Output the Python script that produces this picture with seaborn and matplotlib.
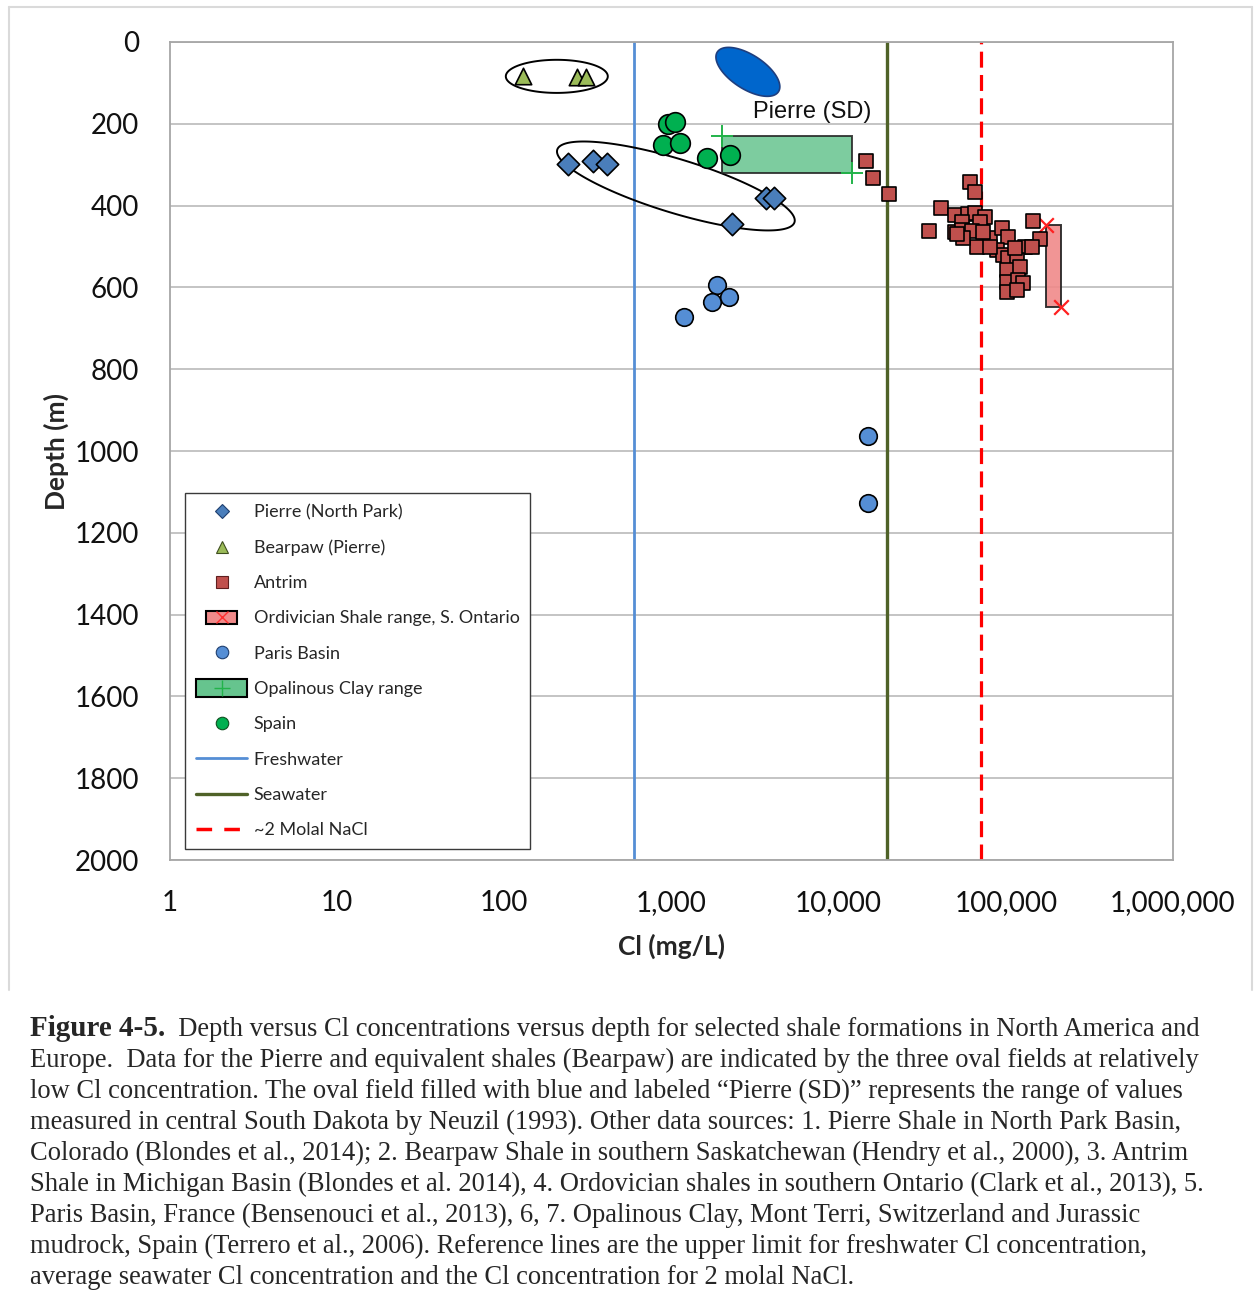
import numpy as np
import pandas as pd
import matplotlib
matplotlib.use("Agg")
import matplotlib.pyplot as plt
import seaborn as sns
from matplotlib.patches import Rectangle, Patch
from matplotlib.lines import Line2D
from matplotlib.legend_handler import HandlerTuple, HandlerPatch
from matplotlib.ticker import FixedLocator, FixedFormatter, NullLocator

# ---------------- data ----------------
# Pierre Shale, North Park Basin (Colorado)
pierre_np_cl = [240, 339, 411, 3670, 4095, 2298]
pierre_np_depth = [298, 291, 298, 381, 381, 445]

# Bearpaw Shale (southern Saskatchewan)
bearpaw_cl = [129, 272, 310]
bearpaw_depth = [84, 85, 86]

# Antrim Shale, Michigan Basin
antrim_cl = [14500, 16000, 19900, 60900, 65300, 40800, 34600, 145000, 160000,
             49600, 59300, 65300, 74900, 54600, 69900, 49600, 54600, 62600,
             80200, 94700, 102800, 67000, 88300, 130000, 143000, 95900,
             102800, 116400, 101400, 121300, 101400, 118000, 126400, 101400,
             116400, 55300, 50900, 72800, 80200, 113200]
antrim_depth = [291, 333, 372, 342, 367, 406, 462, 438, 482,
                423, 421, 418, 428, 440, 440, 465, 460, 462,
                479, 455, 477, 501, 509, 501, 501, 521,
                528, 533, 557, 550, 587, 582, 589, 611,
                606, 479, 469, 465, 501, 504]

# Paris Basin, France
paris_cl = [1868, 1745, 2205, 1186, 14950, 14950]
paris_depth = [594, 636, 623, 672, 963, 1127]

# Jurassic mudrock, Spain
spain_cl = [951, 1048, 889, 1122, 1629, 2235]
spain_depth = [200, 196, 252, 247, 284, 276]

# Ranges: (min, max)
ordovician_cl = [173000, 213000]
ordovician_depth = [447, 648]
opalinus_cl = [2000, 12000]
opalinus_depth = [230, 320]

# Reference concentrations (mg/L)
freshwater_cl = 600
seawater_cl = 19400
nacl_2molal_cl = 70900

# Oval fields: centre Cl, centre depth, semi-axes (decades), tilt (deg)
oval_bearpaw = dict(cl=206, depth=84, a=0.305, b=0.099, angle=0)
oval_pierre_np = dict(cl=1062, depth=352, a=0.742, b=0.161, angle=-17)
oval_pierre_sd = dict(cl=2864, depth=73, a=0.218, b=0.102, angle=-33)
pierre_sd_label = dict(cl=3070, depth=171, text="Pierre (SD)")

x_ticks = [1, 10, 100, 1000, 10000, 100000, 1000000]
x_tick_labels = ["1", "10", "100", "1,000", "10,000", "100,000", "1,000,000"]
y_ticks = list(range(0, 2001, 200))

# ---------------- style ----------------
sns.set_style("white")
plt.rcParams["font.family"] = ["Lato", "DejaVu Sans"]

c_pierre = "#4A7EBB"
c_bearpaw = "#9BBB59"
c_antrim = "#C0504D"
c_paris = "#558ED5"
c_spain = "#00B050"
c_fresh = "#558ED5"
c_sea = "#4F6228"
c_nacl = "#FF0000"
c_ord_fill = "#F08A8A"
c_opal_fill = "#66C48E"

W, H, DPI = 1255, 1306, 100
fig = plt.figure(figsize=(W / DPI, H / DPI), dpi=DPI)
ax_left, ax_right, ax_top, ax_bottom = 170, 1173, 42, 860
ax = fig.add_axes([ax_left / W, 1 - ax_bottom / H,
                   (ax_right - ax_left) / W, (ax_bottom - ax_top) / H])

ax.set_xscale("log")
ax.set_xlim(1, 1e6)
ax.set_ylim(2000, 0)

# horizontal grid
ax.set_axisbelow(True)
ax.yaxis.grid(True, color="#BFBFBF", lw=1.3)
ax.xaxis.grid(False)

# reference lines
ax.axvline(freshwater_cl, color=c_fresh, lw=2.0, zorder=2)
ax.axvline(seawater_cl, color=c_sea, lw=2.4, zorder=2)
ax.axvline(nacl_2molal_cl, color=c_nacl, lw=2.3, dashes=(5, 2.3), zorder=2)


def draw_oval(spec, **kw):
    """Ellipse drawn in (log10 Cl, depth) space, isotropic on screen."""
    pos = ax.get_position()
    px_per_dec = pos.width * W / 6.0
    px_per_m = pos.height * H / 2000.0
    t = np.linspace(0, 2 * np.pi, 300)
    X = spec["a"] * np.cos(t)
    Y = spec["b"] * np.sin(t)
    th = np.deg2rad(spec["angle"])
    Xr = X * np.cos(th) - Y * np.sin(th)
    Yr = X * np.sin(th) + Y * np.cos(th)
    lx = np.log10(spec["cl"]) + Xr
    dep = spec["depth"] - Yr * px_per_dec / px_per_m
    return ax.fill(10 ** lx, dep, **kw)


draw_oval(oval_bearpaw, facecolor="none", edgecolor="black", lw=1.4, zorder=3)
draw_oval(oval_pierre_np, facecolor="none", edgecolor="black", lw=1.4, zorder=3)
draw_oval(oval_pierre_sd, facecolor="#0066CC", edgecolor="#1F3F7F", lw=1.2, zorder=3)
ax.text(pierre_sd_label["cl"], pierre_sd_label["depth"], pierre_sd_label["text"],
        fontsize=17, family=["Liberation Sans", "DejaVu Sans"],
        ha="left", va="center", color="#111111", zorder=6)

# range boxes
ax.add_patch(Rectangle((opalinus_cl[0], opalinus_depth[0]),
                       opalinus_cl[1] - opalinus_cl[0],
                       opalinus_depth[1] - opalinus_depth[0],
                       facecolor=c_opal_fill, edgecolor="#222222", lw=1.4,
                       alpha=0.85, zorder=5))
ax.add_patch(Rectangle((ordovician_cl[0], ordovician_depth[0]),
                       ordovician_cl[1] - ordovician_cl[0],
                       ordovician_depth[1] - ordovician_depth[0],
                       facecolor=c_ord_fill, edgecolor="#222222", lw=1.4,
                       alpha=0.9, zorder=5))
sns.scatterplot(x=opalinus_cl, y=opalinus_depth, marker="+", s=260,
                color="#22B34A", linewidth=1.4, ax=ax, zorder=6, legend=False)
sns.scatterplot(x=ordovician_cl, y=ordovician_depth, marker="x", s=110,
                color="#FF2020", linewidth=1.6, ax=ax, zorder=6, legend=False)

# point series
pt_kw = dict(edgecolor="black", linewidth=1.2, ax=ax, legend=False)
sns.scatterplot(x=bearpaw_cl, y=bearpaw_depth, marker="^", s=140,
                color=c_bearpaw, zorder=7, **pt_kw)
sns.scatterplot(x=spain_cl, y=spain_depth, marker="o", s=200,
                color=c_spain, zorder=7, **pt_kw)
sns.scatterplot(x=pierre_np_cl, y=pierre_np_depth, marker="D", s=130,
                color=c_pierre, zorder=7, **pt_kw)
sns.scatterplot(x=paris_cl, y=paris_depth, marker="o", s=160,
                color=c_paris, zorder=7, **pt_kw)
sns.scatterplot(x=antrim_cl, y=antrim_depth, marker="s", s=105,
                color=c_antrim, zorder=7, **pt_kw)

# axes cosmetics
ax.xaxis.set_major_locator(FixedLocator(x_ticks))
ax.xaxis.set_major_formatter(FixedFormatter(x_tick_labels))
ax.xaxis.set_minor_locator(NullLocator())
ax.set_yticks(y_ticks)
ax.set_yticklabels([str(v) for v in y_ticks])
ax.tick_params(axis="both", which="major", direction="out", length=7.5,
               width=1.0, color="#A6A6A6", labelsize=20, labelcolor="#111111")
ax.tick_params(axis="x", pad=14)
ax.tick_params(axis="y", pad=15)
for sp in ax.spines.values():
    sp.set_color("#A6A6A6")
    sp.set_linewidth(1.3)

ax.set_xlabel("Cl (mg/L)", fontsize=19, fontweight="bold", labelpad=13)
ax.set_ylabel("Depth (m)", fontsize=19, fontweight="bold", labelpad=4)

# legend
h_pierre = Line2D([], [], ls="", marker="D", ms=7, mfc=c_pierre, mec="#1F3F6F", mew=0.8)
h_bear = Line2D([], [], ls="", marker="^", ms=8, mfc=c_bearpaw, mec="#3F4F1F", mew=0.8)
h_antrim = Line2D([], [], ls="", marker="s", ms=8, mfc=c_antrim, mec="#5F1F1F", mew=0.8)
ord_patch = Patch(facecolor=c_ord_fill, edgecolor="black", lw=1.5)
ord_mark = Line2D([], [], ls="", marker="x", ms=9, mec="#FF3030", mew=1.0)
h_paris = Line2D([], [], ls="", marker="o", ms=9, mfc=c_paris, mec="#1F3F6F", mew=0.8)
opal_patch = Patch(facecolor=c_opal_fill, edgecolor="black", lw=1.5)
opal_mark = Line2D([], [], ls="", marker="+", ms=12, mec="#22B34A", mew=1.0)
h_spain = Line2D([], [], ls="", marker="o", ms=9, mfc=c_spain, mec="#0F4F1F", mew=0.8)
h_fresh = Line2D([], [], color=c_fresh, lw=2)
h_sea = Line2D([], [], color=c_sea, lw=2.4)
h_nacl = Line2D([], [], color=c_nacl, lw=2.5, dashes=(4.5, 3.5))


def ord_rect(legend, orig_handle, xdescent, ydescent, width, height, fontsize):
    w = width * 0.6
    h = height * 1.05
    return Rectangle((-xdescent + (width - w) / 2, -ydescent + (height - h) / 2), w, h)


def opal_rect(legend, orig_handle, xdescent, ydescent, width, height, fontsize):
    w = width * 1.0
    h = height * 1.4
    return Rectangle((-xdescent + (width - w) / 2, -ydescent + (height - h) / 2), w, h)


handles = [h_pierre, h_bear, h_antrim, (ord_patch, ord_mark), h_paris,
           (opal_patch, opal_mark), h_spain, h_fresh, h_sea, h_nacl]
labels = ["Pierre (North Park)", "Bearpaw (Pierre)", "Antrim",
          "Ordivician Shale range, S. Ontario", "Paris Basin",
          "Opalinous Clay range", "Spain", "Freshwater", "Seawater",
          "~2 Molal NaCl"]
leg = ax.legend(handles, labels,
                handler_map={tuple: HandlerTuple(ndivide=1, pad=0),
                             ord_patch: HandlerPatch(patch_func=ord_rect),
                             opal_patch: HandlerPatch(patch_func=opal_rect)},
                loc="upper left", bbox_to_anchor=(15 / 1003, 1 - (493 - 42) / 818),
                borderaxespad=0, fontsize=13, frameon=True, fancybox=False,
                framealpha=1, edgecolor="#3A3A3A", labelspacing=1.07,
                handlelength=2.85, handletextpad=0.35, borderpad=0.6)
leg.get_frame().set_linewidth(1.0)
leg.set_zorder(10)

# outer chart frame
frame_c = "#DADADA"
x0, x1 = 9 / W, 1252 / W
y0, y1 = 1 - 990 / H, 1 - 7 / H
for xs, ys in [((x0, x0), (y0, y1)), ((x0, x1), (y1, y1)), ((x1, x1), (y1, y0))]:
    fig.add_artist(Line2D(xs, ys, transform=fig.transFigure, color=frame_c, lw=1.5))

# caption
caption_lines = [
    "  Depth versus Cl concentrations versus depth for selected shale formations in North America and",
    "Europe.  Data for the Pierre and equivalent shales (Bearpaw) are indicated by the three oval fields at relatively",
    "low Cl concentration. The oval field filled with blue and labeled \u201cPierre (SD)\u201d represents the range of values",
    "measured in central South Dakota by Neuzil (1993). Other data sources: 1. Pierre Shale in North Park Basin,",
    "Colorado (Blondes et al., 2014); 2. Bearpaw Shale in southern Saskatchewan (Hendry et al., 2000), 3. Antrim",
    "Shale in Michigan Basin (Blondes et al. 2014), 4. Ordovician shales in southern Ontario (Clark et al., 2013), 5.",
    "Paris Basin, France (Bensenouci et al., 2013), 6, 7. Opalinous Clay, Mont Terri, Switzerland and Jurassic",
    "mudrock, Spain (Terrero et al., 2006). Reference lines are the upper limit for freshwater Cl concentration,",
    "average seawater Cl concentration and the Cl concentration for 2 molal NaCl.",
]
serif = ["Liberation Serif", "DejaVu Serif"]
cap_size = 19.1
base0 = 1036
pitch = 31
x_text = 30 / W
t_bold = fig.text(x_text, 1 - base0 / H, "Figure 4-5.", fontsize=21,
                  fontweight="bold", family=serif, va="baseline", ha="left")
renderer = fig.canvas.get_renderer()
bb = t_bold.get_window_extent(renderer)
fig.text(bb.x1 / W, 1 - base0 / H, caption_lines[0], fontsize=cap_size,
         family=serif, va="baseline", ha="left")
for i, line in enumerate(caption_lines[1:], start=1):
    fig.text(x_text, 1 - (base0 + pitch * i) / H, line, fontsize=cap_size,
             family=serif, va="baseline", ha="left")

fig.savefig("out.png", dpi=DPI, facecolor="white")
